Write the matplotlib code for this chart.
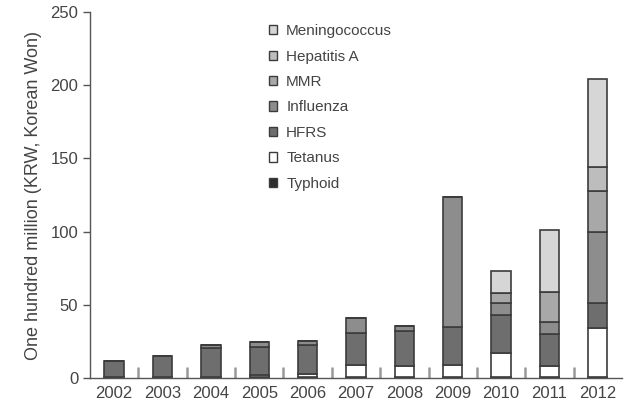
import matplotlib
matplotlib.use("Agg")
import matplotlib.pyplot as plt
from matplotlib.patches import Patch
import numpy as np

plt.rcParams['font.family'] = ['Liberation Sans Narrow', 'Liberation Sans', 'DejaVu Sans']

years = ['2002', '2003', '2004', '2005', '2006', '2007', '2008', '2009', '2010', '2011', '2012']

# stacked from bottom to top (units: one hundred million KRW)
typhoid       = [0.5, 0.5, 0.5, 0.5, 0.5, 0.5, 0.5, 0.5, 0.5, 0.5, 0.5]
tetanus       = [0, 0, 0, 1.5, 2.5, 8.5, 7.5, 8.5, 16.5, 7.5, 33.5]
hfrs          = [11.3, 14.7, 19.8, 19.4, 19.5, 21.5, 23.9, 26, 26, 22, 17]
influenza     = [0, 0, 2, 3.4, 2.8, 10.3, 3.5, 89, 8, 8, 49]
mmr           = [0, 0, 0, 0, 0, 0, 0, 0, 7, 21, 28]
hepatitis_a   = [0, 0, 0, 0, 0, 0, 0, 0, 0, 0, 16]
meningococcus = [0, 0, 0, 0, 0, 0, 0, 0, 15, 42, 60]

series = [
    ('Typhoid', typhoid, '#2e2e2e'),
    ('Tetanus', tetanus, '#ffffff'),
    ('HFRS', hfrs, '#6e6e6e'),
    ('Influenza', influenza, '#8d8d8d'),
    ('MMR', mmr, '#a8a8a8'),
    ('Hepatitis A', hepatitis_a, '#bdbdbd'),
    ('Meningococcus', meningococcus, '#d6d6d6'),
]

fig = plt.figure(figsize=(6.27, 4.12), dpi=100)
ax = fig.add_axes([0.1435, 0.0825, 0.8485, 0.888])

x = np.arange(len(years))
bottom = np.zeros(len(years))
edge = '#3c3c3c'
for name, vals, col in series:
    vals = np.array(vals, dtype=float)
    ax.bar(x, vals, width=0.4, bottom=bottom, color=col, edgecolor=edge, linewidth=1.2)
    bottom += vals

ax.set_xlim(-0.5, len(years) - 0.5)
ax.set_ylim(0, 250)
ax.set_yticks([0, 50, 100, 150, 200, 250])
ax.set_xticks(x)
ax.set_xticklabels(years)
ax.set_xticks(x[:-1] + 0.5, minor=True)
ax.tick_params(axis='x', which='major', length=0, pad=6, labelsize=12, labelcolor='#444444')
ax.tick_params(axis='x', which='minor', direction='in', length=8, width=1.8, color='#999999')
ax.tick_params(axis='y', length=5, width=1, color='#555555', labelsize=12, labelcolor='#444444')

for s in ['top', 'right']:
    ax.spines[s].set_visible(False)
for s in ['left', 'bottom']:
    ax.spines[s].set_color('#555555')
    ax.spines[s].set_linewidth(1)

ax.set_ylabel('One hundred million (KRW, Korean Won)', fontsize=13, color='#444444', labelpad=6)

handles = [Patch(facecolor=col, edgecolor=edge, linewidth=1, label=name) for name, vals, col in series[::-1]]
ax.legend(handles=handles, loc='upper left', bbox_to_anchor=(0.31, 1.005), frameon=False,
          handlelength=0.55, handleheight=0.55, handletextpad=0.6, labelspacing=0.75,
          fontsize=11, labelcolor='#444444')

fig.savefig('out.png', dpi=100)
